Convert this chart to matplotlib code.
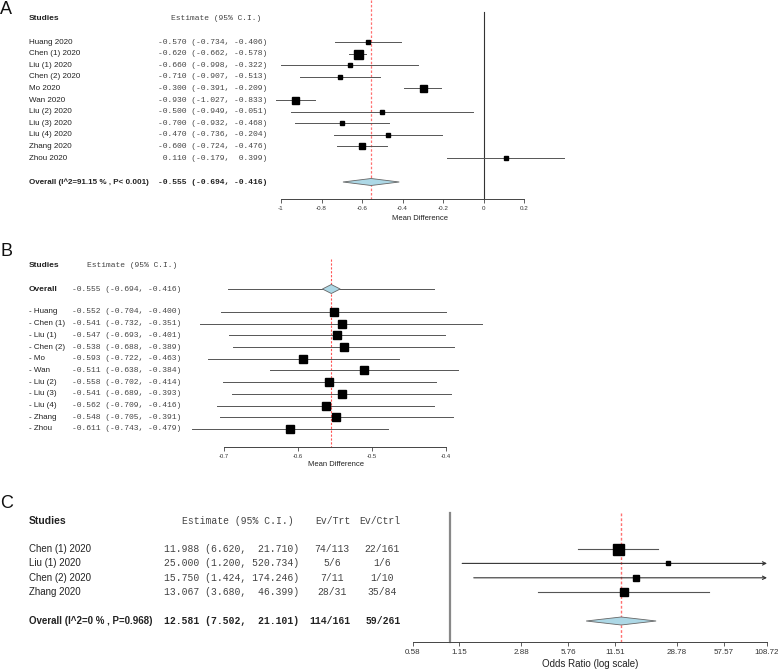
import matplotlib
matplotlib.use("Agg")
import matplotlib.pyplot as plt
from matplotlib.patches import Polygon
import numpy as np

# ---- panel A: random effects, mean difference
studies_a = ["Huang 2020", "Chen (1) 2020", "Liu (1) 2020", "Chen (2) 2020", "Mo 2020",
             "Wan 2020", "Liu (2) 2020", "Liu (3) 2020", "Liu (4) 2020", "Zhang 2020", "Zhou 2020"]
est_a = [-0.570, -0.620, -0.660, -0.710, -0.300, -0.930, -0.500, -0.700, -0.470, -0.600, 0.110]
lo_a = [-0.734, -0.662, -0.998, -0.907, -0.391, -1.027, -0.949, -0.932, -0.736, -0.724, -0.179]
hi_a = [-0.406, -0.578, -0.322, -0.513, -0.209, -0.833, -0.051, -0.468, -0.204, -0.476, 0.399]
weight_a = [5, 9, 3.5, 5, 7, 7, 3.5, 4.5, 4.5, 5.5, 4]
overall_a = [-0.555, -0.694, -0.416]
i2_a, p_a = "91.15", "< 0.001"
ticks_a = [-1, -0.8, -0.6, -0.4, -0.2, 0, 0.2]

# ---- panel B: leave-one-out
studies_b = ["Huang", "Chen (1)", "Liu (1)", "Chen (2)", "Mo", "Wan",
             "Liu (2)", "Liu (3)", "Liu (4)", "Zhang", "Zhou"]
est_b = [-0.552, -0.541, -0.547, -0.538, -0.593, -0.511, -0.558, -0.541, -0.562, -0.548, -0.611]
lo_b = [-0.704, -0.732, -0.693, -0.688, -0.722, -0.638, -0.702, -0.689, -0.709, -0.705, -0.743]
hi_b = [-0.400, -0.351, -0.401, -0.389, -0.463, -0.384, -0.414, -0.393, -0.416, -0.391, -0.479]
ticks_b = [-0.7, -0.6, -0.5, -0.4]

# ---- panel C: odds ratio
studies_c = ["Chen (1) 2020", "Liu (1) 2020", "Chen (2) 2020", "Zhang 2020"]
est_c = [11.988, 25.000, 15.750, 13.067]
lo_c = [6.620, 1.200, 1.424, 3.680]
hi_c = [21.710, 520.734, 174.246, 46.399]
ev_trt = ["74/113", "5/6", "7/11", "28/31"]
ev_ctrl = ["22/161", "1/6", "1/10", "35/84"]
weight_c = [11, 5, 6, 8]
overall_c = [12.581, 7.502, 21.101]
overall_ev = ["114/161", "59/261"]
i2_c, p_c = "0", "0.968"
ticks_c = [0.58, 1.15, 2.88, 5.76, 11.51, 28.78, 57.57, 108.72]

W, H = 778, 671
SANS = "Liberation Sans"
MONO = "Liberation Mono"
LINE = "#555555"
FILL = "#ADD8E6"
RED = "#ff7070"

fig = plt.figure(figsize=(W / 100, H / 100), dpi=100)


def txt(x, y, s, size, family=SANS, **kw):
    kw.setdefault("va", "center")
    kw.setdefault("color", "#222222")
    fig.text(x / W, 1 - y / H, s, fontsize=size, family=family, **kw)


def px_axes(x0, x1, y0, y1):
    ax = fig.add_axes([x0 / W, 1 - y1 / H, (x1 - x0) / W, (y1 - y0) / H])
    ax.set_ylim(y1, y0)
    for s in ["left", "top", "right"]:
        ax.spines[s].set_visible(False)
    ax.spines["bottom"].set_color("#444444")
    ax.spines["bottom"].set_linewidth(0.7)
    ax.set_yticks([])
    ax.patch.set_alpha(0)
    ax.tick_params(axis="x", direction="out", length=3, width=0.6, pad=2,
                   color="#444444", labelcolor="#333333")
    return ax


def diamond(ax, lo, est, hi, y, h):
    ax.add_patch(Polygon([(lo, y), (est, y - h), (hi, y), (est, y + h)], closed=True,
                         facecolor=FILL, edgecolor="#666666", lw=0.6, clip_on=False, zorder=3))


def fmt_md(e, l, u):
    return f"{e:6.3f} ({l:6.3f}, {u:6.3f})"


# ================= A =================
txt(0, 9, "A", 13, color="#111111")
txt(29, 18, "Studies", 6, weight="bold")
txt(171, 18, "Estimate (95% C.I.)", 5.8, MONO, color="#444444")
rows_a = 42 + 11.6 * np.arange(len(studies_a))
ov_y_a = 182
for i, name in enumerate(studies_a):
    txt(29, rows_a[i], name, 5.8)
    txt(158, rows_a[i], fmt_md(est_a[i], lo_a[i], hi_a[i]), 5.8, MONO, color="#444444")
txt(29, ov_y_a, f"Overall (I^2={i2_a} % , P{p_a})", 5.8, weight="bold")
txt(158, ov_y_a, fmt_md(*overall_a), 5.8, MONO, weight="bold")

ax = px_axes(281, 524, 12, 199)
ax.set_xlim(-1, 0.2)
ax.spines["bottom"].set_bounds(-1, 0.2)
ax.set_xticks(ticks_a)
ax.set_xticklabels([f"{t:g}" for t in ticks_a], fontsize=4.5, family=SANS)
ax.plot([0, 0], [12, 199], color="#333333", lw=0.8, clip_on=False)
ax.plot([overall_a[0]] * 2, [0, 199], color=RED, lw=0.9, ls=(0, (2, 1.5)), clip_on=False)
for i in range(len(studies_a)):
    ax.plot([lo_a[i], hi_a[i]], [rows_a[i]] * 2, color=LINE, lw=0.7, clip_on=False)
    ax.plot(est_a[i], rows_a[i], "s", color="black", ms=weight_a[i] * 0.72, clip_on=False, zorder=4)
diamond(ax, overall_a[1], overall_a[0], overall_a[2], ov_y_a, 3.5)
txt(420, 218, "Mean Difference", 5.5, ha="center")

# ================= B =================
txt(0, 252, "B", 13, color="#111111")
txt(29, 266, "Studies", 6, weight="bold")
txt(87, 266, "Estimate (95% C.I.)", 5.8, MONO, color="#444444")
ov_y_b = 289
rows_b = 312 + 11.7 * np.arange(len(studies_b))
txt(29, ov_y_b, "Overall", 6, weight="bold")
txt(72, ov_y_b, fmt_md(*overall_a), 5.8, MONO, color="#444444")
for i, name in enumerate(studies_b):
    txt(29, rows_b[i], "- " + name, 5.8)
    txt(72, rows_b[i], fmt_md(est_b[i], lo_b[i], hi_b[i]), 5.8, MONO, color="#444444")

ax = px_axes(224, 446, 259, 447)
ax.set_xlim(-0.7, -0.4)
ax.spines["bottom"].set_bounds(-0.7, -0.4)
ax.set_xticks(ticks_b)
ax.set_xticklabels([f"{t:g}" for t in ticks_b], fontsize=4.2, family=SANS)
ax.plot([overall_a[0]] * 2, [259, 447], color="#ff5555", lw=0.8, ls=(0, (2, 1.5)), clip_on=False)
ax.plot([overall_a[1], overall_a[2]], [ov_y_b] * 2, color=LINE, lw=0.7, clip_on=False)
diamond(ax, overall_a[0] - 0.012, overall_a[0], overall_a[0] + 0.012, ov_y_b, 4.5)
for i in range(len(studies_b)):
    ax.plot([lo_b[i], hi_b[i]], [rows_b[i]] * 2, color=LINE, lw=0.7, clip_on=False)
    ax.plot(est_b[i], rows_b[i], "s", color="black", ms=6.3, clip_on=False, zorder=4)
txt(336, 465, "Mean Difference", 5.5, ha="center")

# ================= C =================
txt(0, 504, "C", 13, color="#111111")
txt(29, 521, "Studies", 7.5, weight="bold")
txt(182, 521, "Estimate (95% C.I.)", 7, MONO, color="#444444")
txt(333, 521, "Ev/Trt", 7, MONO, color="#444444", ha="center")
txt(380, 521, "Ev/Ctrl", 7, MONO, color="#444444", ha="center")
rows_c = 549 + 14.4 * np.arange(len(studies_c))
ov_y_c = 621
for i, name in enumerate(studies_c):
    txt(29, rows_c[i], name, 7)
    txt(164, rows_c[i], f"{est_c[i]:6.3f} ({lo_c[i]:5.3f}, {hi_c[i]:7.3f})", 7, MONO, color="#444444")
    txt(332, rows_c[i], ev_trt[i], 7, MONO, color="#444444", ha="center")
    txt(382, rows_c[i], ev_ctrl[i], 7, MONO, color="#444444", ha="center")
txt(29, ov_y_c, f"Overall (I^2={i2_c} % , P={p_c})", 7, weight="bold")
txt(164, ov_y_c, f"{overall_c[0]:6.3f} ({overall_c[1]:5.3f}, {overall_c[2]:7.3f})", 7, MONO, weight="bold")
txt(330, ov_y_c, overall_ev[0], 7, MONO, weight="bold", ha="center")
txt(383, ov_y_c, overall_ev[1], 7, MONO, weight="bold", ha="center")

ax = px_axes(413, 767, 513, 642)
ax.set_xscale("log")
ax.set_xlim(ticks_c[0], ticks_c[-1])
ax.spines["bottom"].set_bounds(ticks_c[0], ticks_c[-1])
ax.set_xticks(ticks_c)
ax.set_xticks([], minor=True)
ax.set_xticklabels([f"{t:.2f}" for t in ticks_c], fontsize=5.8, family=SANS)
ax.plot([1, 1], [513, 642], color="#888888", lw=1.6, clip_on=False)
ax.plot([overall_c[0]] * 2, [513, 642], color=RED, lw=1.0, ls=(0, (2, 1.5)), clip_on=False)
xmax = ticks_c[-1]
for i in range(len(studies_c)):
    if hi_c[i] > xmax:
        ax.annotate("", xy=(xmax, rows_c[i]), xytext=(lo_c[i], rows_c[i]),
                    arrowprops=dict(arrowstyle="->", color="#333333", lw=0.8,
                                    shrinkA=0, shrinkB=0, mutation_scale=6),
                    annotation_clip=False)
    else:
        ax.plot([lo_c[i], hi_c[i]], [rows_c[i]] * 2, color=LINE, lw=0.8, clip_on=False)
    ax.plot(est_c[i], rows_c[i], "s", color="black", ms=weight_c[i] * 0.72, clip_on=False, zorder=4)
diamond(ax, overall_c[1], overall_c[0], overall_c[2], ov_y_c, 4)
txt(590, 664, "Odds Ratio (log scale)", 7, ha="center")

fig.savefig("out.png", dpi=100)
